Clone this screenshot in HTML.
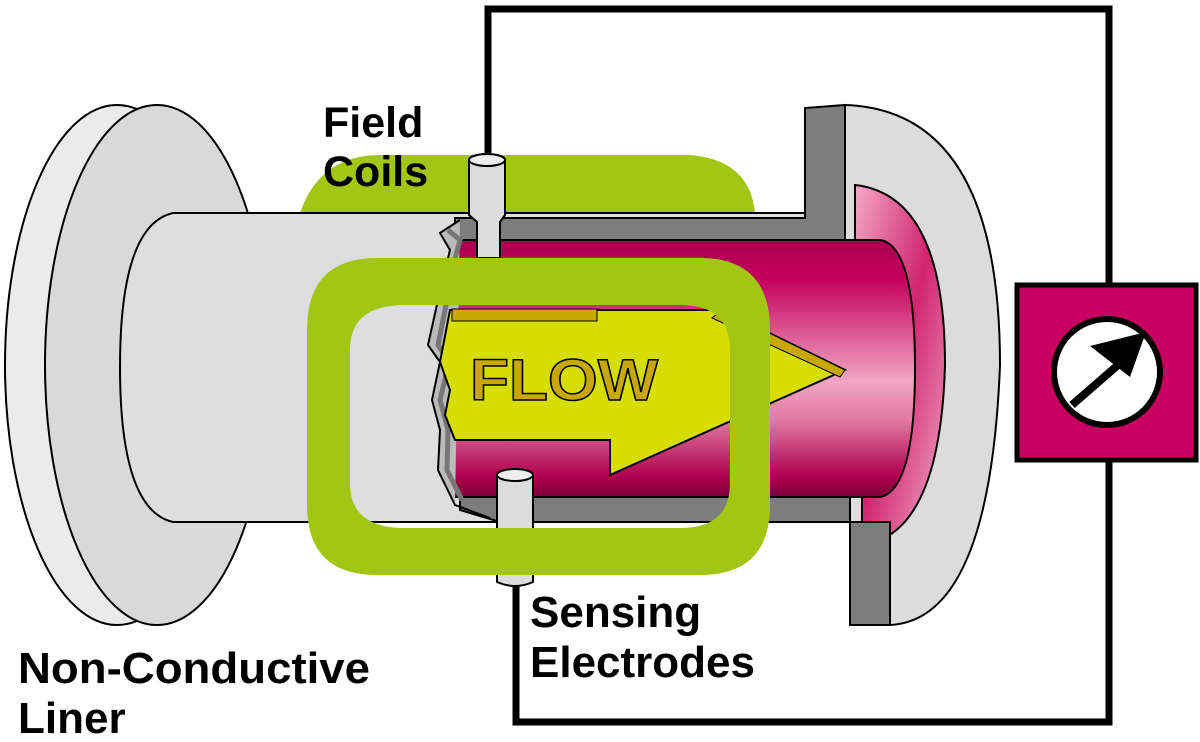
<!DOCTYPE html>
<html><head><meta charset="utf-8"><style>
html,body{margin:0;padding:0;background:#fff;width:1200px;height:742px;overflow:hidden}
svg{display:block}
.lb{font-family:"Liberation Sans",Arial,sans-serif;font-weight:bold;fill:#000}
</style></head><body>
<svg width="1200" height="742" viewBox="0 0 1200 742" xmlns="http://www.w3.org/2000/svg">
<defs>
<linearGradient id="mag" x1="0" y1="0" x2="0" y2="1">
<stop offset="0" stop-color="#a8004f"/>
<stop offset="0.15" stop-color="#c4005c"/>
<stop offset="0.55" stop-color="#f2a6c4"/>
<stop offset="0.7" stop-color="#e27aa2"/>
<stop offset="0.92" stop-color="#b0004f"/>
<stop offset="1" stop-color="#7a0035"/>
</linearGradient>
<linearGradient id="pinkcap" x1="0" y1="0" x2="1" y2="1">
<stop offset="0" stop-color="#f5a8c6"/>
<stop offset="0.5" stop-color="#d0246e"/>
<stop offset="1" stop-color="#f3b0ca"/>
</linearGradient>
</defs>

<polyline points="488,160 488,9 1109,9 1109,285" fill="none" stroke="#000" stroke-width="7"/>
<polyline points="1109,460 1109,722 516,722 516,585" fill="none" stroke="#000" stroke-width="7"/>

<ellipse cx="117" cy="365" rx="112" ry="260" fill="#ebebeb" stroke="#000" stroke-width="2"/>
<ellipse cx="157" cy="365" rx="112" ry="260" fill="#d9d9d9" stroke="#000" stroke-width="2"/>

<path d="M300,213 Q320,155 380,155 L690,155 Q750,160 755,213 Z" fill="#a3c513"/>

<path d="M845,105 Q1000,110 1000,365 Q990,620 890,625 L850,625 L850,497 L805,497 L805,240 L845,240 Z" fill="#dcdcdc" stroke="#000" stroke-width="2"/>
<path d="M855,185 Q945,195 945,365 Q940,535 862,545 L862,497 L855,497 Z" fill="url(#pinkcap)" stroke="#000" stroke-width="2"/>

<path d="M173,213 L820,213 L820,522 L173,522 Q120,510 120,367 Q120,225 173,213 Z" fill="#dedede" stroke="#000" stroke-width="2"/>

<path d="M455,218 L805,218 L805,108 L845,105 L845,242 L455,242 Z" fill="#7d7d7d" stroke="#000" stroke-width="2"/>
<path d="M460,497 L850,497 L850,625 L890,625 L890,522 L500,522 L460,510 Z" fill="#7d7d7d" stroke="#000" stroke-width="2"/>

<path d="M452,240 L880,240 Q915,245 915,368 Q915,490 880,497 L455,497 L445,470 L452,430 L440,400 L448,360 L436,345 L446,300 L450,270 Z" fill="url(#mag)" stroke="#000" stroke-width="2"/>

<path d="M460,220 L440,233 L450,250 L438,300 L428,345 L440,362 L432,400 L440,430 L438,470 L455,505 L490,518 L455,505" fill="#bbb" stroke="#000" stroke-width="2"/>
<path d="M448,230 L460,240 L452,270 L447,300 L438,345 L449,362 L440,400 L448,430 L447,470 L462,500" fill="none" stroke="#777" stroke-width="5"/>

<path d="M450,310 L722,310 L845,370 L610,475 L610,440 L455,440 L445,415 L450,390 L440,362 Z" fill="#d6de00" stroke="#000" stroke-width="2"/>
<rect x="452" y="309" width="145" height="12" fill="#c8a800" stroke="#000" stroke-width="1"/>
<path d="M722,310 L845,370 L840,377 L712,318 Z" fill="#c8a800" stroke="#000" stroke-width="1"/>
<text x="470" y="400" font-size="58" style="font-family:'Liberation Sans',sans-serif;font-weight:bold;fill:#c8a800;stroke:#000;stroke-width:1.5" textLength="188" lengthAdjust="spacingAndGlyphs">FLOW</text>

<path d="M469,160 L505,160 L505,215 L500,222 L500,258 L477,258 L477,222 L469,215 Z" fill="#dcdcdc" stroke="#000" stroke-width="2"/>
<ellipse cx="487" cy="160" rx="18" ry="6" fill="#eee" stroke="#000" stroke-width="2"/>

<path d="M497,475 L533,475 L533,582 Q515,590 497,582 Z" fill="#dcdcdc" stroke="#000" stroke-width="2"/>
<ellipse cx="515" cy="475" rx="18" ry="6" fill="#eee" stroke="#000" stroke-width="2"/>

<path fill-rule="evenodd" fill="#a3c513" d="M377,258 L700,258 Q770,258 770,330 L770,505 Q770,575 700,575 L377,575 Q307,575 307,505 L307,330 Q307,258 377,258 Z M405,305 L680,305 Q730,305 730,350 L730,483 Q730,528 680,528 L405,528 Q350,528 350,483 L350,350 Q350,305 405,305 Z"/>

<rect x="1017" y="285" width="179" height="175" fill="#c8005f" stroke="#000" stroke-width="5"/>
<circle cx="1107" cy="372" r="53" fill="#fff" stroke="#000" stroke-width="6"/>
<line x1="1072" y1="405" x2="1118" y2="365" stroke="#000" stroke-width="8"/>
<polygon points="1146,332 1130,377 1090,346" fill="#000"/>

<text class="lb" x="323" y="137" font-size="43">Field</text>
<text class="lb" x="323" y="186" font-size="43">Coils</text>
<text class="lb" x="530" y="627" font-size="44">Sensing</text>
<text class="lb" x="530" y="677" font-size="44">Electrodes</text>
<text class="lb" x="18" y="683" font-size="44" textLength="352" lengthAdjust="spacingAndGlyphs">Non-Conductive</text>
<text class="lb" x="18" y="733" font-size="44">Liner</text>
</svg>
</body></html>
